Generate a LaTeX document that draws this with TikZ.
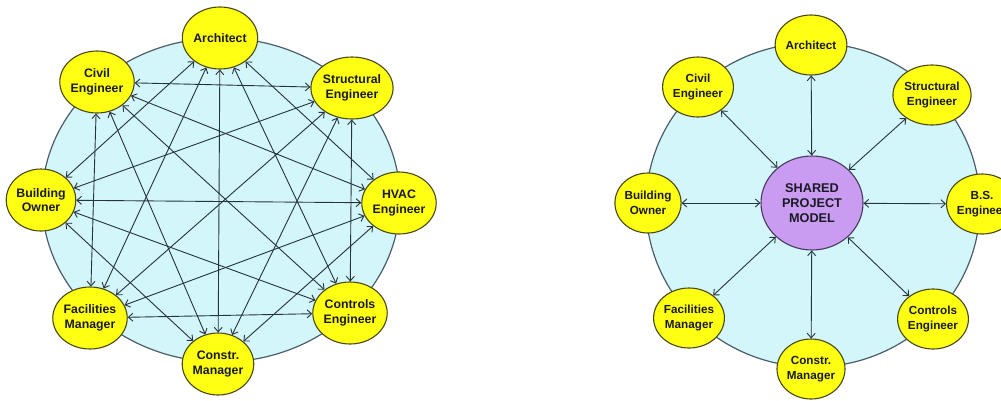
\documentclass[tikz,border=0pt]{standalone}
\usepackage{fontspec}
\setmainfont{Liberation Sans}
\usetikzlibrary{shapes.geometric,arrows.meta}
\definecolor{cyanbg}{HTML}{D2F6F9}
\definecolor{ringcol}{HTML}{4A5E6A}
\definecolor{yel}{HTML}{FFFF14}
\definecolor{yelline}{HTML}{4A4818}
\definecolor{arr}{HTML}{26323E}
\definecolor{purp}{HTML}{C99CF2}
\definecolor{purpline}{HTML}{4A3A5A}
\definecolor{txt}{HTML}{1A1A24}
\begin{document}
\begin{tikzpicture}[x=1pt,y=-1pt,
  ring/.style={draw=ringcol,line width=1.2pt,fill=cyanbg},
  actor/.style={ellipse,draw=yelline,line width=1.1pt,fill=yel,minimum width=66pt,minimum height=62pt,inner sep=0pt,align=center,font=\fontsize{12.3}{14.8}\selectfont\bfseries,text=txt},
  actorR/.style={actor,minimum width=63pt,minimum height=60pt,font=\fontsize{11.7}{14.5}\selectfont\bfseries},
  hub/.style={ellipse,draw=purpline,line width=1.1pt,fill=purp,minimum width=102pt,minimum height=94pt,inner sep=0pt,align=center,font=\fontsize{12.7}{15.3}\selectfont\bfseries,text=txt},
  link/.style={draw=arr,line width=0.9pt,>={Straight Barb[length=4.5pt,width=8pt]},<->}
]
\useasboundingbox (0,0) rectangle (1001,400);
\fill[white] (0,0) rectangle (1001,400);

% ---------- left diagram ----------
\draw[ring] (221,200) ellipse [x radius=179, y radius=162];
\node[actor] (A) at (220,38) {Architect};
\node[actor] (C) at (97,82) {Civil\\Engineer};
\node[actor] (S) at (352,88) {Structural\\Engineer};
\node[actor] (O) at (41,200) {Building\\Owner};
\node[actor] (H) at (399,203) {HVAC\\Engineer};
\node[actor] (F) at (90,318) {Facilities\\Manager};
\node[actor] (K) at (350,313) {Controls\\Engineer};
\node[actor] (M) at (218,364) {Constr.\\Manager};

\foreach \a/\b in {A/O,A/F,A/M,A/K,A/H,
                   C/S,C/H,C/K,C/M,C/F,
                   S/O,S/F,S/M,S/K,
                   H/O,H/F,H/M,
                   K/O,K/F,
                   M/O}
  \draw[link] (\a) -- (\b);

% ---------- right diagram ----------
\draw[ring] (813,205) ellipse [x radius=167, y radius=162];
\node[hub] (P) at (812,203) {SHARED\\PROJECT\\MODEL};
\node[actorR] (A2) at (811,45) {Architect};
\node[actorR] (C2) at (698,87) {Civil\\Engineer};
\node[actorR] (S2) at (932,95) {Structural\\Engineer};
\node[actorR] (O2) at (648,203) {Building\\Owner};
\node[actorR] (B2) at (982,204) {B.S.\\Engineer};
\node[actorR] (F2) at (689,318) {Facilities\\Manager};
\node[actorR] (K2) at (933,319) {Controls\\Engineer};
\node[actorR] (M2) at (811,369) {Constr.\\Manager};

\foreach \a in {A2,C2,S2,O2,B2,F2,K2,M2}
  \draw[link] (P) -- (\a);
\end{tikzpicture}
\end{document}
